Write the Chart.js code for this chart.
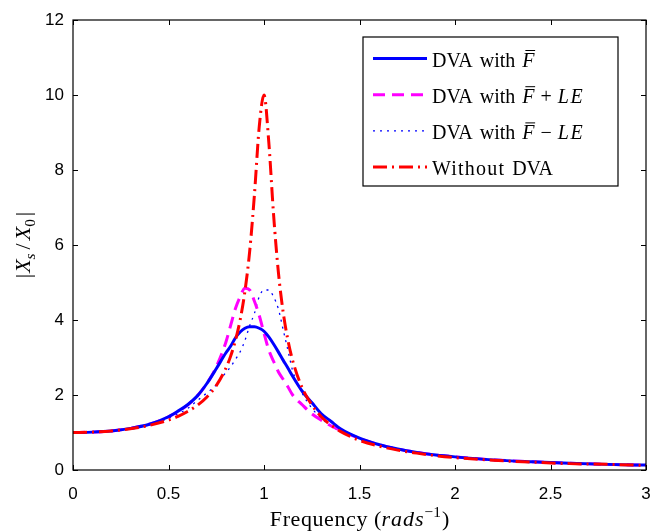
<!DOCTYPE html>
<html>
<head>
<meta charset="utf-8">
<script src="https://cdn.jsdelivr.net/npm/chart.js@4.4.1/dist/chart.umd.min.js"></script>
<style>
  body { margin: 0; background: #fff; }
  #wrap { width: 651px; height: 532px; }
</style>
</head>
<body>
<div id="wrap"><canvas id="myChart" width="651" height="532"></canvas></div>
<script>
// frequency ratio (x) and response amplitude
var freq = [0, 0.1, 0.2, 0.3, 0.4, 0.5, 0.55, 0.6, 0.65, 0.7, 0.75, 0.8, 0.825, 0.85, 0.875,
  0.9, 0.925, 0.95, 0.975, 1.0, 1.025, 1.05, 1.075, 1.1, 1.125, 1.15, 1.2, 1.25, 1.3, 1.35,
  1.4, 1.5, 1.6, 1.7, 1.8, 1.9, 2.0, 2.2, 2.4, 2.6, 2.8, 3.0];

var dvaF = [1, 1.01, 1.04, 1.11, 1.22, 1.42, 1.57, 1.74, 1.97, 2.3, 2.7, 3.12, 3.3, 3.52, 3.68,
  3.78, 3.82, 3.82, 3.78, 3.7, 3.55, 3.36, 3.15, 2.93, 2.72, 2.5, 2.1, 1.8, 1.5, 1.3,
  1.1, 0.85, 0.68, 0.56, 0.47, 0.4, 0.35, 0.27, 0.22, 0.18, 0.15, 0.13];

var dvaPlusLE = [1, 1.01, 1.04, 1.11, 1.22, 1.42, 1.56, 1.73, 1.97, 2.3, 2.75, 3.4, 3.85, 4.3, 4.62,
  4.85, 4.8, 4.5, 4.12, 3.65, 3.2, 2.9, 2.62, 2.42, 2.22, 2.0, 1.74, 1.5, 1.33, 1.18,
  1.06, 0.84, 0.68, 0.56, 0.47, 0.4, 0.35, 0.27, 0.22, 0.18, 0.15, 0.13];

var dvaMinusLE = [1, 1.01, 1.04, 1.1, 1.2, 1.38, 1.5, 1.64, 1.85, 2.05, 2.27, 2.6, 2.75, 2.95, 3.15,
  3.45, 3.85, 4.18, 4.62, 4.8, 4.8, 4.62, 4.3, 3.75, 3.2, 2.65, 2.05, 1.65, 1.38, 1.18,
  1.04, 0.82, 0.66, 0.55, 0.46, 0.4, 0.35, 0.27, 0.22, 0.18, 0.15, 0.13];

var noDVA = [1, 1.01, 1.04, 1.1, 1.19, 1.33, 1.43, 1.56, 1.72, 1.94, 2.25, 2.71, 3.03, 3.45, 4.0,
  4.76, 5.83, 7.35, 9.15, 10.0, 8.75, 6.82, 5.29, 4.22, 3.47, 2.92, 2.19, 1.74, 1.42, 1.2,
  1.03, 0.79, 0.64, 0.53, 0.45, 0.38, 0.33, 0.26, 0.21, 0.17, 0.15, 0.125];

var xTicks = [0, 0.5, 1, 1.5, 2, 2.5, 3];
var yTicks = [0, 2, 4, 6, 8, 10, 12];

var serif = '"Liberation Serif", "Times New Roman", serif';

function pts(ys) {
  return freq.map(function (f, i) { return { x: f, y: ys[i] }; });
}

// legend entries: text runs (it = italic, bar = overbar, gap = extra space after, ls = letter spacing)
var legendRows = [
  { color: '#0000ff', width: 3, dash: [], runs: [{ t: 'DVA', gap: 7 }, { t: 'with', gap: 7 }, { t: 'F', it: true, bar: true }] },
  { color: '#ff00ff', width: 3, dash: [12, 7], runs: [{ t: 'DVA', gap: 7 }, { t: 'with', gap: 7 }, { t: 'F', it: true, bar: true, gap: 6 }, { t: '+', gap: 6 }, { t: 'LE', it: true, ls: 1.5 }] },
  { color: '#0000ff', width: 1.3, dash: [2, 5], runs: [{ t: 'DVA', gap: 7 }, { t: 'with', gap: 7 }, { t: 'F', it: true, bar: true, gap: 6 }, { t: '\u2212', gap: 6 }, { t: 'LE', it: true, ls: 1.5 }] },
  { color: '#ff0000', width: 3, dash: [14, 5, 2, 5], runs: [{ t: 'Without', gap: 7, ls: 1.2 }, { t: 'DVA' }] }
];

function setFont(ctx, r, size) {
  var s = (r.sub || r.sup) ? size * 0.7 : size;
  ctx.font = (r.it ? 'italic ' : '') + s + 'px ' + serif;
  ctx.letterSpacing = (r.ls || 0) + 'px';
  return s;
}

function drawRuns(ctx, runs, x, y, size) {
  runs.forEach(function (r) {
    var s = setFont(ctx, r, size), yy = y;
    if (r.sub) yy = y + size * 0.22;
    if (r.sup) yy = y - size * 0.42;
    ctx.fillText(r.t, x, yy);
    var w = ctx.measureText(r.t).width;
    if (r.bar) {
      ctx.save();
      ctx.lineWidth = 1;
      ctx.beginPath();
      ctx.moveTo(x + w * 0.25, yy - s * 0.8);
      ctx.lineTo(x + w * 1.05, yy - s * 0.8);
      ctx.stroke();
      ctx.restore();
    }
    x += w + (r.gap || 0);
  });
  ctx.letterSpacing = '0px';
}

function runsWidth(ctx, runs, size) {
  var w = 0;
  runs.forEach(function (r) {
    setFont(ctx, r, size);
    w += ctx.measureText(r.t).width + (r.gap || 0);
  });
  ctx.letterSpacing = '0px';
  return w;
}

var framePlugin = {
  id: 'frame',
  afterDraw: function (chart) {
    var ctx = chart.ctx, a = chart.chartArea;
    var xs = chart.scales.x, ys = chart.scales.y;
    ctx.save();
    ctx.strokeStyle = '#000';
    ctx.fillStyle = '#000';
    ctx.lineWidth = 1.2;
    ctx.setLineDash([]);
    ctx.strokeRect(a.left, a.top, a.right - a.left, a.bottom - a.top);

    // inward ticks on all four sides
    ctx.lineWidth = 1;
    xTicks.forEach(function (v) {
      var px = Math.round(xs.getPixelForValue(v)) + 0.5;
      ctx.beginPath();
      ctx.moveTo(px, a.bottom); ctx.lineTo(px, a.bottom - 5);
      ctx.moveTo(px, a.top); ctx.lineTo(px, a.top + 5);
      ctx.stroke();
    });
    yTicks.forEach(function (v) {
      var py = Math.round(ys.getPixelForValue(v)) + 0.5;
      ctx.beginPath();
      ctx.moveTo(a.left, py); ctx.lineTo(a.left + 5, py);
      ctx.moveTo(a.right, py); ctx.lineTo(a.right - 5, py);
      ctx.stroke();
    });

    // legend box
    var bx = a.right - 283, by = a.top + 17, bw = 255, bh = 149;
    ctx.fillStyle = '#fff';
    ctx.fillRect(bx, by, bw, bh);
    ctx.lineWidth = 1.2;
    ctx.strokeRect(bx, by, bw, bh);
    legendRows.forEach(function (row, i) {
      var ly = by + 21.5 + i * 36.2;
      ctx.save();
      ctx.strokeStyle = row.color;
      ctx.lineWidth = row.width;
      ctx.setLineDash(row.dash);
      ctx.beginPath();
      ctx.moveTo(bx + 10, ly); ctx.lineTo(bx + 64, ly);
      ctx.stroke();
      ctx.restore();
      ctx.fillStyle = '#000';
      ctx.textBaseline = 'alphabetic';
      ctx.textAlign = 'left';
      drawRuns(ctx, row.runs, bx + 69, ly + 8, 20);
    });

    // x axis title
    var xRuns = [{ t: 'Frequency', gap: 6, ls: 0.6 }, { t: '(' }, { t: 'rads', it: true, ls: 1 }, { t: '\u22121', sup: true, gap: 1 }, { t: ')' }];
    var xw = runsWidth(ctx, xRuns, 22);
    drawRuns(ctx, xRuns, (a.left + a.right) / 2 - xw / 2, 526, 22);

    // y axis title (rotated)
    var yRuns = [{ t: '|', gap: 1 }, { t: 'X', it: true }, { t: 's', it: true, sub: true, gap: 4 }, { t: '/', gap: 3 }, { t: 'X', it: true }, { t: '0', sub: true, gap: 3 }, { t: '|' }];
    var yw = runsWidth(ctx, yRuns, 22);
    ctx.save();
    ctx.translate(30, (a.top + a.bottom) / 2);
    ctx.rotate(-Math.PI / 2);
    drawRuns(ctx, yRuns, -yw / 2, 0, 22);
    ctx.restore();

    ctx.restore();
  }
};

var myChart = document.getElementById('myChart').getContext('2d');

var chart = new Chart(myChart, {
  type: 'line',
  data: {
    datasets: [
      { label: 'DVA with F', data: pts(dvaF), borderColor: '#0000ff', borderWidth: 3, order: 1 },
      { label: 'DVA with F + LE', data: pts(dvaPlusLE), borderColor: '#ff00ff', borderWidth: 3, borderDash: [12, 7], order: 2 },
      { label: 'DVA with F - LE', data: pts(dvaMinusLE), borderColor: '#0000ff', borderWidth: 1.3, borderDash: [2, 5], order: 3 },
      { label: 'Without DVA', data: pts(noDVA), borderColor: '#ff0000', borderWidth: 3, borderDash: [14, 5, 2, 5], order: 0 }
    ]
  },
  options: {
    responsive: false,
    animation: false,
    layout: { padding: { top: 20, right: 5, left: 0, bottom: 0 } },
    elements: {
      point: { radius: 0 },
      line: { cubicInterpolationMode: 'monotone', fill: false }
    },
    plugins: {
      legend: { display: false },
      tooltip: { enabled: false }
    },
    scales: {
      x: {
        type: 'linear',
        min: 0, max: 3,
        afterBuildTicks: function (s) { s.ticks = xTicks.map(function (v) { return { value: v }; }); },
        afterFit: function (s) { s.height = 62; s.paddingLeft = 0; s.paddingRight = 0; },
        grid: { display: false },
        border: { display: false },
        ticks: {
          color: '#000',
          padding: 6,
          maxRotation: 0,
          font: { family: '"Liberation Sans", Arial, sans-serif', size: 17 },
          callback: function (v) { return String(v); }
        }
      },
      y: {
        type: 'linear',
        min: 0, max: 12,
        afterBuildTicks: function (s) { s.ticks = yTicks.map(function (v) { return { value: v }; }); },
        afterFit: function (s) { s.width = 73; s.paddingTop = 0; s.paddingBottom = 0; },
        grid: { display: false },
        border: { display: false },
        ticks: {
          color: '#000',
          padding: 1,
          font: { family: '"Liberation Sans", Arial, sans-serif', size: 17 },
          callback: function (v) { return String(v); }
        }
      }
    }
  },
  plugins: [framePlugin]
});
</script>
</body>
</html>
